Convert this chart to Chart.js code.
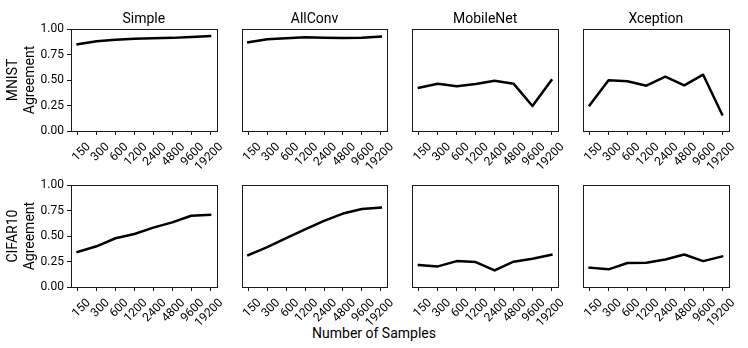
<!DOCTYPE html>
<html><head><meta charset="utf-8">
<script src="https://cdn.jsdelivr.net/npm/chart.js@4.4.1/dist/chart.umd.min.js"></script>
<style>
html,body{margin:0;padding:0;background:#fff;}
#wrap{position:relative;width:748px;height:348px;overflow:hidden;background:#fff;}
#wrap canvas{position:absolute;}
#xlabel{position:absolute;left:0;width:748px;top:325px;text-align:center;font:14px Roboto,sans-serif;line-height:16px;color:#000;}
</style></head><body>
<div id="wrap"><div id="xlabel">Number of Samples</div></div>
<script>
// ---- data ----
const samples = ['150','300','600','1200','2400','4800','9600','19200'];
const models = ['Simple','AllConv','MobileNet','Xception'];
const datasetNames = ['MNIST','CIFAR10'];
const yTickValues = [0, 0.25, 0.5, 0.75, 1.0];
const mnistSimple    = [0.85, 0.88, 0.895, 0.905, 0.91, 0.913, 0.922, 0.93];
const mnistAllConv   = [0.87, 0.90, 0.91, 0.918, 0.915, 0.912, 0.915, 0.925];
const mnistMobileNet = [0.425, 0.464, 0.438, 0.46, 0.493, 0.464, 0.245, 0.497];
const mnistXception  = [0.252, 0.497, 0.487, 0.444, 0.533, 0.448, 0.552, 0.163];
const cifarSimple    = [0.345, 0.40, 0.479, 0.521, 0.583, 0.635, 0.70, 0.71];
const cifarAllConv   = [0.313, 0.391, 0.479, 0.564, 0.648, 0.72, 0.765, 0.778];
const cifarMobileNet = [0.215, 0.202, 0.254, 0.244, 0.163, 0.248, 0.277, 0.316];
const cifarXception  = [0.189, 0.173, 0.235, 0.238, 0.27, 0.319, 0.254, 0.30];
const grid = [
  [mnistSimple, mnistAllConv, mnistMobileNet, mnistXception],
  [cifarSimple, cifarAllConv, cifarMobileNet, cifarXception]
];

// ---- layout ----
const colLeft = [71, 241.7, 412.3, 583];
const panelW = 145.7;
const rowTop = [29, 185];
const panelH = 102;
const FONT = 'Roboto, sans-serif';
const INK = '#1a1a1a';

const boxPlugin = {
  id: 'box',
  afterDatasetsDraw(chart) {
    const a = chart.chartArea, ctx = chart.ctx;
    ctx.save();
    ctx.strokeStyle = INK;
    ctx.lineWidth = 1;
    const l = Math.round(a.left) + 0.5, t = Math.round(a.top) + 0.5;
    const r = Math.round(a.right) + 0.5, b = Math.round(a.bottom) + 0.5;
    ctx.strokeRect(l, t, r - l, b - t);
    ctx.restore();
  }
};

const wrap = document.getElementById('wrap');
for (let r = 0; r < 2; r++) {
  for (let c = 0; c < 4; c++) {
    const cLeft = c === 0 ? 0 : Math.floor(colLeft[c]) - 20;
    const cRight = Math.ceil(colLeft[c] + panelW) + 18;
    const cTop = r === 0 ? 0 : 175;
    const cBottom = r === 0 ? 175 : 330;
    const cw = cRight - cLeft, ch = cBottom - cTop;
    const padLeft = c === 0 ? 0 : colLeft[c] - cLeft;
    const padRight = cRight - (colLeft[c] + panelW);
    const padTop = r === 0 ? 0 : rowTop[1] - cTop;
    const xAxisH = cBottom - (rowTop[r] + panelH);

    const cv = document.createElement('canvas');
    cv.width = cw; cv.height = ch;
    cv.style.left = cLeft + 'px'; cv.style.top = cTop + 'px';
    cv.style.width = cw + 'px'; cv.style.height = ch + 'px';
    wrap.appendChild(cv);

    const values = grid[r][c];
    new Chart(cv, {
      type: 'line',
      data: {
        datasets: [{
          data: values.map((v, i) => ({x: i, y: v})),
          borderColor: '#000',
          borderWidth: 2.5,
          pointRadius: 0,
          tension: 0,
          borderJoinStyle: 'round',
          borderCapStyle: 'square',
          fill: false
        }]
      },
      options: {
        responsive: false,
        animation: false,
        devicePixelRatio: 1,
        layout: {padding: {left: padLeft, right: padRight, top: padTop, bottom: 0}},
        plugins: {
          legend: {display: false},
          tooltip: {enabled: false},
          title: {
            display: r === 0,
            text: models[c],
            fullSize: false,
            color: '#000',
            font: {family: FONT, size: 14, weight: 'normal', lineHeight: 1.2},
            padding: {top: 11, bottom: 29 - 11 - 16.8}
          }
        },
        scales: {
          x: {
            type: 'linear',
            min: -0.35, max: 7.35,
            afterBuildTicks: s => { s.ticks = samples.map((lab, i) => ({value: i})); },
            afterFit: s => { s.height = xAxisH; },
            border: {display: false},
            grid: {display: true, drawOnChartArea: false, drawTicks: true, tickLength: 4, color: INK, lineWidth: 1},
            ticks: {
              autoSkip: false, minRotation: 45, maxRotation: 45,
              padding: 5, labelOffset: 11,
              color: '#000',
              font: {family: FONT, size: 12},
              callback: (v, i) => samples[i]
            }
          },
          y: {
            display: c === 0,
            min: 0, max: 1,
            afterBuildTicks: s => { s.ticks = yTickValues.map(v => ({value: v})); },
            afterFit: s => { s.width = c === 0 ? colLeft[0] : 0; },
            border: {display: false},
            grid: {display: true, drawOnChartArea: false, drawTicks: true, tickLength: 4, color: INK, lineWidth: 1},
            ticks: {
              padding: 3,
              color: '#000',
              font: {family: FONT, size: 12},
              callback: v => Number(v).toFixed(2)
            },
            title: {
              display: true,
              text: [datasetNames[r], 'Agreement'],
              color: '#000',
              font: {family: FONT, size: 14, lineHeight: 1.2},
              padding: {top: 5, bottom: 0}
            }
          }
        }
      },
      plugins: [boxPlugin]
    });
  }
}
</script>
</body></html>
